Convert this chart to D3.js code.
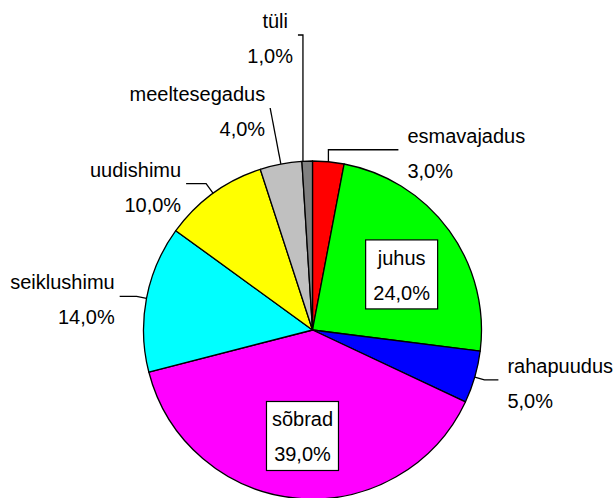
<!DOCTYPE html>
<html>
<head>
<meta charset="utf-8">
<script src="https://cdn.jsdelivr.net/npm/d3@7"></script>
<style>
  html, body { margin: 0; padding: 0; background: #fff; }
  svg { display: block; }
  text { font-family: "Liberation Sans", Arial, sans-serif; font-size: 20px; fill: #000; }
</style>
</head>
<body>
<svg id="chart" width="616" height="498"></svg>
<script>
// ---- data ----
const categories = ["esmavajadus", "juhus", "rahapuudus", "sõbrad", "seiklushimu", "uudishimu", "meeltesegadus", "tüli"];
const values = [3, 24, 5, 39, 14, 10, 4, 1];
const colors = ["#FF0000", "#00FF00", "#0000FF", "#FF00FF", "#00FFFF", "#FFFF00", "#C0C0C0", "#808080"];
const labelTexts = ["3,0%", "24,0%", "5,0%", "39,0%", "14,0%", "10,0%", "4,0%", "1,0%"];

// ---- layout ----
const W = 616, H = 498;
const cx = 312.5, cy = 330, R = 169;

// label layout: inside (boxed) or outside with leader line
const labelLayout = [
  { kind: "up", rise: 12, run: 70 },                 // esmavajadus
  { kind: "in", dx: 3, dy: 7 },                      // juhus
  { kind: "side", stub: 10, run: 14 },               // rahapuudus
  { kind: "in", dx: 0, dy: 0 },                      // sõbrad
  { kind: "side", stub: 10, run: -17 },              // seiklushimu
  { kind: "side", stub: 12, run: -20 },              // uudishimu
  { kind: "radial", stub: 57 },                      // meeltesegadus
  { kind: "upTo", topY: 35, run: -5, attach: 0.1, dx0: -5 } // tüli
];

const svg = d3.select("#chart");
const g = svg.append("g").attr("transform", `translate(${cx},${cy})`);

const data = categories.map((c, i) => ({ cat: c, value: values[i], color: colors[i], pct: labelTexts[i], lay: labelLayout[i] }));

const pie = d3.pie().value(d => d.value).sort(null);
const arcs = pie(data);
const arc = d3.arc().innerRadius(0).outerRadius(R);

g.selectAll("path.slice")
  .data(arcs)
  .join("path")
  .attr("class", "slice")
  .attr("d", arc)
  .attr("fill", d => d.data.color)
  .attr("stroke", "#000")
  .attr("stroke-width", 1.3)
  .attr("stroke-linejoin", "round");

const polar = (a, r) => [r * Math.sin(a), -r * Math.cos(a)];

const lineGap = 35;

arcs.forEach(d => {
  const lay = d.data.lay;
  const lines = [d.data.cat, d.data.pct];
  if (lay.kind === "in") {
    const inner = d3.arc().innerRadius(R * 0.63).outerRadius(R * 0.63);
    let [x, y] = inner.centroid(d);
    x += lay.dx; y += lay.dy;
    const bw = 72, bh = 69;
    g.append("rect")
      .attr("x", x - bw / 2).attr("y", y - bh / 2)
      .attr("width", bw).attr("height", bh)
      .attr("fill", "#fff").attr("stroke", "#000").attr("stroke-width", 1.2);
    lines.forEach((t, k) => {
      g.append("text")
        .attr("x", x).attr("y", y - 9.5 + k * lineGap)
        .attr("text-anchor", "middle")
        .text(t);
    });
    return;
  }
  const frac = lay.attach !== undefined ? lay.attach : 0.5;
  const a = d.startAngle + frac * (d.endAngle - d.startAngle);
  const p0 = polar(a, R);
  let pts, end;
  if (lay.kind === "up") {
    const p1 = [p0[0], p0[1] - lay.rise];
    const p2 = [p1[0] + lay.run, p1[1]];
    pts = [p0, p1, p2]; end = p2;
  } else if (lay.kind === "side") {
    const p1 = polar(a, R + lay.stub);
    const p2 = [p1[0] + lay.run, p1[1]];
    pts = [p0, p1, p2]; end = p2;
  } else if (lay.kind === "radial") {
    const p1 = polar(a, R + lay.stub);
    pts = [p0, p1]; end = p1;
  } else if (lay.kind === "upTo") {
    const p1 = [p0[0], lay.topY - cy];
    const p2 = [p1[0] + lay.run, p1[1]];
    pts = [p0, p1, p2]; end = p2;
  }
  const rightSide = Math.sin(a) > 0;
  const anchor = rightSide ? "start" : "end";
  g.append("path")
    .attr("d", d3.line()(pts))
    .attr("fill", "none")
    .attr("stroke", "#000")
    .attr("stroke-width", 1.3);
  const tx = rightSide ? end[0] + 9 : end[0] - 5;
  lines.forEach((t, k) => {
    g.append("text")
      .attr("x", tx + (k === 0 && lay.dx0 ? lay.dx0 : 0))
      .attr("y", end[1] - 7 + k * lineGap)
      .attr("text-anchor", anchor)
      .text(t);
  });
});
</script>
</body>
</html>
